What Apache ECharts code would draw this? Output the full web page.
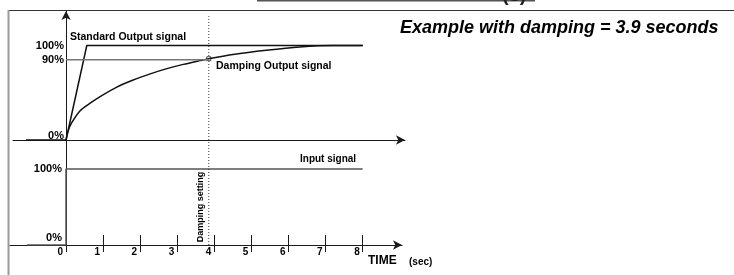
<!DOCTYPE html>
<html lang="en">
<head>
    <meta charset="UTF-8">
    <title>Damping example</title>
    <script src="https://cdn.jsdelivr.net/npm/echarts@6/dist/echarts.min.js"></script>
    <style>
        html, body { margin: 0; padding: 0; background: #fff; }
        #chart { width: 734px; height: 275px; }
    </style>
</head>
<body>
<div id="chart"></div>
<script>
// ---- data (time in seconds, level in % of the drawn scale) ----
var stdTime  = [-1.08, 0, 0.56, 8];
var stdLevel = [0, 0, 100, 100];

var dampTime  = [0, 0.05, 0.15, 0.38, 0.65, 0.92, 1.37, 1.81, 2.27, 2.72, 3.16, 3.61, 3.85, 4.5, 5.4, 6.3, 7.2, 8];
var dampLevel = [0, 9, 18, 31, 39, 46, 56, 63.5, 70, 75.5, 80, 84, 86, 90.5, 95, 98.5, 100, 100];

var inputTime  = [-1.05, 0, 0, 8];
var inputLevel = [0, 0, 100, 100];

var dampingSetting = 3.85;   // dotted "Damping setting" line
var ninetyLevel = 85;        // the schematic draws its 90% line here

var outTicks = [0, 85, 100];
var outTickLabels = ['0%', '90%', '100%'];
var inTicks = [0, 100];
var inTickLabels = ['0%', '100%'];
var timeTicks = [0, 1, 2, 3, 4, 5, 6, 7, 8];

function pairs(xs, ys) {
    var out = [];
    for (var i = 0; i < xs.length; i++) out.push([xs[i], ys[i]]);
    return out;
}

var FONT = 'Arial, "Liberation Sans", sans-serif';
var axisColor = '#1a1a1a';

var myecharts = echarts.init(document.getElementById('chart'));

var option = {
    animation: false,
    backgroundColor: '#fff',
    grid: [
        { left: 13, right: 329, top: 11, bottom: 135, outerBoundsMode: 'none', containLabel: false },
        { left: 10, right: 332, top: 141, bottom: 30, outerBoundsMode: 'none', containLabel: false }
    ],
    xAxis: [
        {   // upper, output
            type: 'value', gridIndex: 0, min: -1.43, max: 9.14,
            axisLine: { show: true, lineStyle: { color: axisColor, width: 1 }, symbol: ['none', 'arrow'], symbolSize: [7, 9] },
            axisTick: { show: false }, axisLabel: { show: false }, splitLine: { show: false }
        },
        {   // lower, input / time
            type: 'value', gridIndex: 1, position: 'bottom', min: -1.51, max: 9.06,
            axisLine: { show: true, lineStyle: { color: axisColor, width: 1 }, symbol: ['none', 'arrow'], symbolSize: [7, 9] },
            axisTick: { show: true, inside: true, length: 10, customValues: timeTicks, lineStyle: { color: axisColor } },
            axisLabel: {
                show: true, customValues: timeTicks, align: 'right', margin: 2, padding: [0, 3, 0, 0],
                fontFamily: FONT, fontWeight: 'bold', fontSize: 10, color: '#000'
            },
            splitLine: { show: false }
        },
        {   // lower, tick stubs below the axis
            type: 'value', gridIndex: 1, position: 'bottom', min: -1.51, max: 9.06,
            axisLine: { show: false, onZero: false },
            axisTick: { show: true, inside: false, length: 7, customValues: timeTicks, lineStyle: { color: axisColor } },
            axisLabel: { show: false }, splitLine: { show: false }
        }
    ],
    yAxis: [
        {
            type: 'value', gridIndex: 0, min: 0, max: 136.5,
            axisLine: { show: true, onZero: true, lineStyle: { color: axisColor, width: 1 }, symbol: ['none', 'arrow'], symbolSize: [7, 9] },
            axisTick: { show: false }, splitLine: { show: false },
            axisLabel: {
                customValues: outTicks, margin: -51,
                fontFamily: FONT, fontWeight: 'bold', fontSize: 11, color: '#000',
                formatter: function (v) {
                    var s = outTickLabels[outTicks.indexOf(v)];
                    return v === 0 ? '{low|' + s + '}' : s;
                },
                rich: { low: { fontFamily: FONT, fontWeight: 'bold', fontSize: 11, color: '#000', padding: [0, 0, 8, 0] } }
            }
        },
        {
            type: 'value', gridIndex: 1, min: 0, max: 136.8,
            axisLine: { show: true, onZero: true, lineStyle: { color: axisColor, width: 1 } },
            axisTick: { show: false }, splitLine: { show: false },
            axisLabel: {
                customValues: inTicks, margin: -52,
                fontFamily: FONT, fontWeight: 'bold', fontSize: 11, color: '#000',
                formatter: function (v) {
                    var s = inTickLabels[inTicks.indexOf(v)];
                    return v === 0 ? '{low|' + s + '}' : s;
                },
                rich: { low: { fontFamily: FONT, fontWeight: 'bold', fontSize: 11, color: '#000', padding: [0, 0, 14, 0] } }
            }
        }
    ],
    series: [
        {
            name: 'Standard Output signal', type: 'line', xAxisIndex: 0, yAxisIndex: 0,
            data: pairs(stdTime, stdLevel), symbol: 'none',
            lineStyle: { color: '#111', width: 1.5 }
        },
        {
            name: 'Damping Output signal', type: 'line', xAxisIndex: 0, yAxisIndex: 0,
            data: pairs(dampTime, dampLevel), symbol: 'none', smooth: 0.3,
            lineStyle: { color: '#111', width: 1.5 }
        },
        {
            name: '90%', type: 'line', xAxisIndex: 0, yAxisIndex: 0,
            data: [[0, ninetyLevel], [dampingSetting, ninetyLevel]], symbol: 'none',
            lineStyle: { color: '#777', width: 1.5 }
        },
        {
            name: 'setting upper', type: 'line', xAxisIndex: 0, yAxisIndex: 0,
            data: [[dampingSetting, 0], [dampingSetting, 131]], symbol: 'none',
            lineStyle: { color: '#333', width: 1, type: [1, 2] }
        },
        {
            name: 'marker', type: 'scatter', xAxisIndex: 0, yAxisIndex: 0,
            data: [[dampingSetting, dampLevel[dampTime.indexOf(dampingSetting)]]],
            symbol: 'rect', symbolSize: 4,
            itemStyle: { color: '#fff', borderColor: '#222', borderWidth: 1 }
        },
        {
            name: 'Input signal', type: 'line', xAxisIndex: 1, yAxisIndex: 1,
            data: pairs(inputTime, inputLevel), symbol: 'none',
            lineStyle: { color: '#555', width: 1.5 }
        },
        {
            name: 'setting lower', type: 'line', xAxisIndex: 1, yAxisIndex: 1,
            data: [[dampingSetting, 0], [dampingSetting, 136.8]], symbol: 'none',
            lineStyle: { color: '#333', width: 1, type: [1, 2] }
        }
    ],
    graphic: [
        // frame
        { type: 'line', shape: { x1: 8, y1: 10.5, x2: 734, y2: 10.5 }, style: { stroke: '#333', lineWidth: 1 } },
        { type: 'line', shape: { x1: 8.5, y1: 10, x2: 8.5, y2: 275 }, style: { stroke: '#999', lineWidth: 2 } },
        // clipped box above
        { type: 'line', shape: { x1: 257, y1: 0.5, x2: 535, y2: 0.5 }, style: { stroke: '#555', lineWidth: 2 } },
        { type: 'text', x: 502, y: 5, style: { text: '(s)', font: 'bold 20px ' + FONT, fill: '#222', verticalAlign: 'bottom' } },
        // title
        { type: 'text', x: 400, y: 28, style: { text: 'Example with damping = 3.9 seconds', font: 'italic bold 18px ' + FONT, fill: '#000', verticalAlign: 'middle' } },
        // annotations
        { type: 'text', x: 70, y: 37, style: { text: 'Standard Output signal', font: 'bold 10.5px ' + FONT, fill: '#000', verticalAlign: 'middle' } },
        { type: 'text', x: 216, y: 66, style: { text: 'Damping Output signal', font: 'bold 10.5px ' + FONT, fill: '#000', verticalAlign: 'middle' } },
        { type: 'text', x: 300, y: 159, style: { text: 'Input signal', font: 'bold 10px ' + FONT, fill: '#000', verticalAlign: 'middle' } },
        { type: 'text', x: 201, y: 207, rotation: Math.PI / 2, style: { text: 'Damping setting', font: 'bold 9px ' + FONT, fill: '#000', align: 'center', verticalAlign: 'middle' } },
        { type: 'text', x: 368, y: 261, style: { text: 'TIME', font: 'bold 12px ' + FONT, fill: '#000', verticalAlign: 'middle' } },
        { type: 'text', x: 409, y: 262, style: { text: '(sec)', font: 'bold 10px ' + FONT, fill: '#000', verticalAlign: 'middle' } }
    ]
};

myecharts.setOption(option);
</script>
</body>
</html>
